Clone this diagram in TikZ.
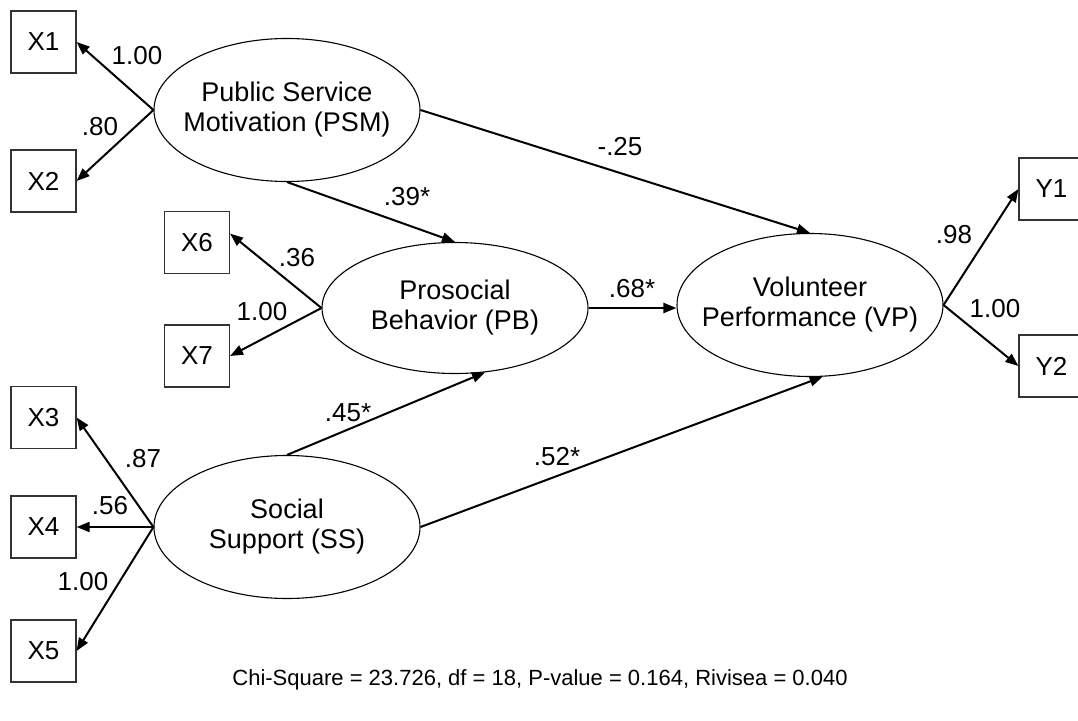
\documentclass[tikz,border=0pt]{standalone}
\usepackage{fontspec}
\setmainfont{Liberation Sans}
\usetikzlibrary{shapes.geometric,arrows.meta}
\begin{document}
\begin{tikzpicture}[x=1pt,y=-1pt,
  every node/.style={font=\fontsize{26}{30}\selectfont},
  obs/.style={draw=black!80,line width=1.2pt,minimum width=65pt,minimum height=62pt,inner sep=0pt},
  lat/.style={draw,ellipse,line width=1.1pt,minimum width=266pt,minimum height=143pt,inner sep=0pt,
    label={[align=center,font=\fontsize{27}{30}\selectfont]center:#1}},
  sempath/.style={line width=2pt,-{Triangle[length=13pt,width=10pt]}},
  coef/.style={inner sep=0pt}]
\useasboundingbox (0,0) rectangle (1078,720);
\clip (0,0) rectangle (1078,720);

% latent variables
\node[lat={Public Service\\Motivation (PSM)}] (PSM) at (287,110) {};
\node[lat={Prosocial\\Behavior (PB)},minimum height=131pt] (PB) at (455,308) {};
\node[lat={Social\\Support (SS)}] (SS) at (287,527) {};
\node[lat={Volunteer\\Performance (VP)}] (VP) at (810,305) {};

% observed indicators
\node[obs] (X1) at (43.5,42) {X1};
\node[obs] (X2) at (43.5,181) {X2};
\node[obs] (X6) at (197,242.5) {X6};
\node[obs] (X7) at (197,356) {X7};
\node[obs] (X3) at (43.5,417.5) {X3};
\node[obs] (X4) at (43.5,527) {X4};
\node[obs] (X5) at (43.5,651) {X5};
\node[obs] (Y1) at (1051.5,189) {Y1};
\node[obs] (Y2) at (1051.5,366) {Y2};

% measurement paths
\draw[sempath] (PSM.west) -- (X1.east);
\draw[sempath] (PSM.west) -- (X2.east);
\draw[sempath] (PB.west) -- (X6.15);
\draw[sempath] (PB.west) -- (X7.east);
\draw[sempath] (SS.west) -- (X3.east);
\draw[sempath] (SS.west) -- (X4.east);
\draw[sempath] (SS.west) -- (X5.east);
\draw[sempath] (VP.east) -- (Y1.west);
\draw[sempath] (VP.east) -- (Y2.west);

% structural paths
\draw[sempath] (PSM.south) -- (PB.north);
\draw[sempath] (PSM.east) -- (VP.north);
\draw[sempath] (PB.east) -- (PB.east -| VP.west);
\draw[sempath] (SS.north) -- (PB.-65);
\draw[sempath] (SS.east) -- (VP.-80);

% coefficients
\node[coef] at (137,56) {1.00};
\node[coef] at (100,127) {.80};
\node[coef] at (297,258) {.36};
\node[coef] at (262,312) {1.00};
\node[coef] at (143,459) {.87};
\node[coef] at (110,506) {.56};
\node[coef] at (83,582) {1.00};
\node[coef] at (954,235) {.98};
\node[coef] at (995,309) {1.00};
\node[coef] at (620,147) {-.25};
\node[coef] at (407,197) {.39*};
\node[coef] at (632,289) {.68*};
\node[coef] at (348,413) {.45*};
\node[coef] at (557,457) {.52*};

% fit statistics
\node[font=\fontsize{22}{26}\selectfont] (fit) at (540,680) {Chi-Square = 23.726, df = 18, P-value = 0.164, Rivisea = 0.040};
\end{tikzpicture}
\end{document}
